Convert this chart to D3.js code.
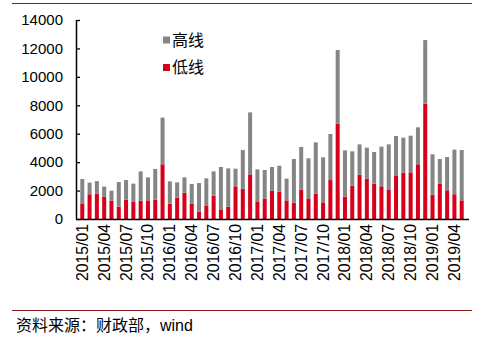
<!DOCTYPE html>
<html><head><meta charset="utf-8">
<script src="https://cdn.jsdelivr.net/npm/d3@7"></script>
<style>
html,body{margin:0;padding:0;background:#fff;}
text{font-family:"Liberation Sans","Noto Sans CJK SC",Arial,sans-serif;}
</style></head>
<body><svg id="c" width="487" height="339"></svg>
<script>
const months = [];
for (let y = 2015; y <= 2019; y++) for (let m = 1; m <= 12; m++) {
  if (y === 2019 && m > 5) break;
  months.push(y + "/" + String(m).padStart(2, "0"));
}
const lowLine = [1100,1740,1780,1570,1290,870,1360,1240,1290,1310,1360,3850,
  1080,1500,1850,1080,520,915,1640,680,870,2300,2130,3140,
  1240,1430,1990,1920,1310,1150,2060,1410,1780,1170,2740,6710,
  1570,2350,3120,2840,2490,2300,2040,3030,3260,3280,3850,8110,
  1710,2490,2020,1740,1310];
const totalVal = [2810,2560,2670,2280,1990,2600,2740,2490,3350,2930,3520,7130,
  2650,2580,2930,2460,2530,2860,3350,3660,3560,3540,4850,7500,
  3490,3450,3660,3750,2840,4220,5070,4270,5390,4340,5980,11890,
  4830,4760,5250,5020,4710,5090,5250,5840,5720,5860,6450,12590,
  4550,4220,4360,4880,4850];
const highLine = totalVal.map((t, i) => t - lowLine[i]);
const yTicks = [0,2000,4000,6000,8000,10000,12000,14000];
const xTickLabels = months.filter((d, i) => i % 3 === 0);
const seriesNames = ["高线", "低线"];
const colors = {"高线": "#858585", "低线": "#d7001b"};

const svg = d3.select("#c");
const x = d3.scaleBand().domain(months).range([77, 467]).padding(0.45);
const y = d3.scaleLinear().domain([0, 14000]).range([219, 20]);

// frame lines
svg.append("line").attr("x1", 12).attr("x2", 472).attr("y1", 3.5).attr("y2", 3.5)
  .attr("stroke", "#8b1a1a").attr("stroke-width", 1.2);
svg.append("line").attr("x1", 12).attr("x2", 472).attr("y1", 310.5).attr("y2", 310.5)
  .attr("stroke", "#8b1a1a").attr("stroke-width", 1.2);

// bars
const rows = months.map((m, i) => ({m, low: lowLine[i], high: highLine[i]}));
const stack = d3.stack().keys(["low", "high"])(rows);
const keyName = {low: "低线", high: "高线"};
svg.append("g").selectAll("g").data(stack).join("g")
  .attr("fill", d => colors[keyName[d.key]])
  .selectAll("rect").data(d => d).join("rect")
  .attr("x", d => x(d.data.m))
  .attr("width", x.bandwidth())
  .attr("y", d => y(d[1]))
  .attr("height", d => y(d[0]) - y(d[1]));

// y axis
const yAxis = svg.append("g").attr("transform", "translate(77,0)")
  .call(d3.axisLeft(y).tickValues(yTicks).tickSize(-3).tickPadding(14).tickFormat(d3.format("d")));
yAxis.select(".domain").attr("d", "M-0.5,20V219").attr("stroke", "#000").attr("stroke-width", 1.5);
yAxis.selectAll(".tick line").attr("stroke", "#000").attr("stroke-width", 1.3);
yAxis.selectAll("text").attr("font-size", "15px").attr("fill", "#000")
  .style("font-family", "'Liberation Sans',Arial,sans-serif");

// x axis
const xAxis = svg.append("g").attr("transform", "translate(0,219)")
  .call(d3.axisBottom(x).tickValues(xTickLabels).tickSize(0).tickPadding(0));
xAxis.select(".domain").attr("d", "M76,0.5H469").attr("stroke", "#000").attr("stroke-width", 1.5);
xAxis.selectAll("text")
  .attr("font-size", "15.8px").attr("fill", "#000")
  .attr("text-anchor", "end")
  .attr("dy", "0.35em")
  .attr("transform", "translate(0,5) rotate(-90)")
  .attr("x", 0).attr("y", 0);

// legend
const leg = svg.append("g");
seriesNames.forEach((s, i) => {
  const gy = 40 + i * 27.5;
  leg.append("rect").attr("x", 163).attr("y", gy - 3.5).attr("width", 7).attr("height", 7).attr("fill", colors[s]);
  leg.append("text").attr("x", 172).attr("y", gy).attr("dy", "0.36em")
    .attr("font-size", "16px").attr("fill", "#000").text(s);
});

// source
svg.append("text").attr("x", 16).attr("y", 331).attr("font-size", "16px").attr("fill", "#000")
  .text("资料来源：财政部，wind");
</script></body></html>
